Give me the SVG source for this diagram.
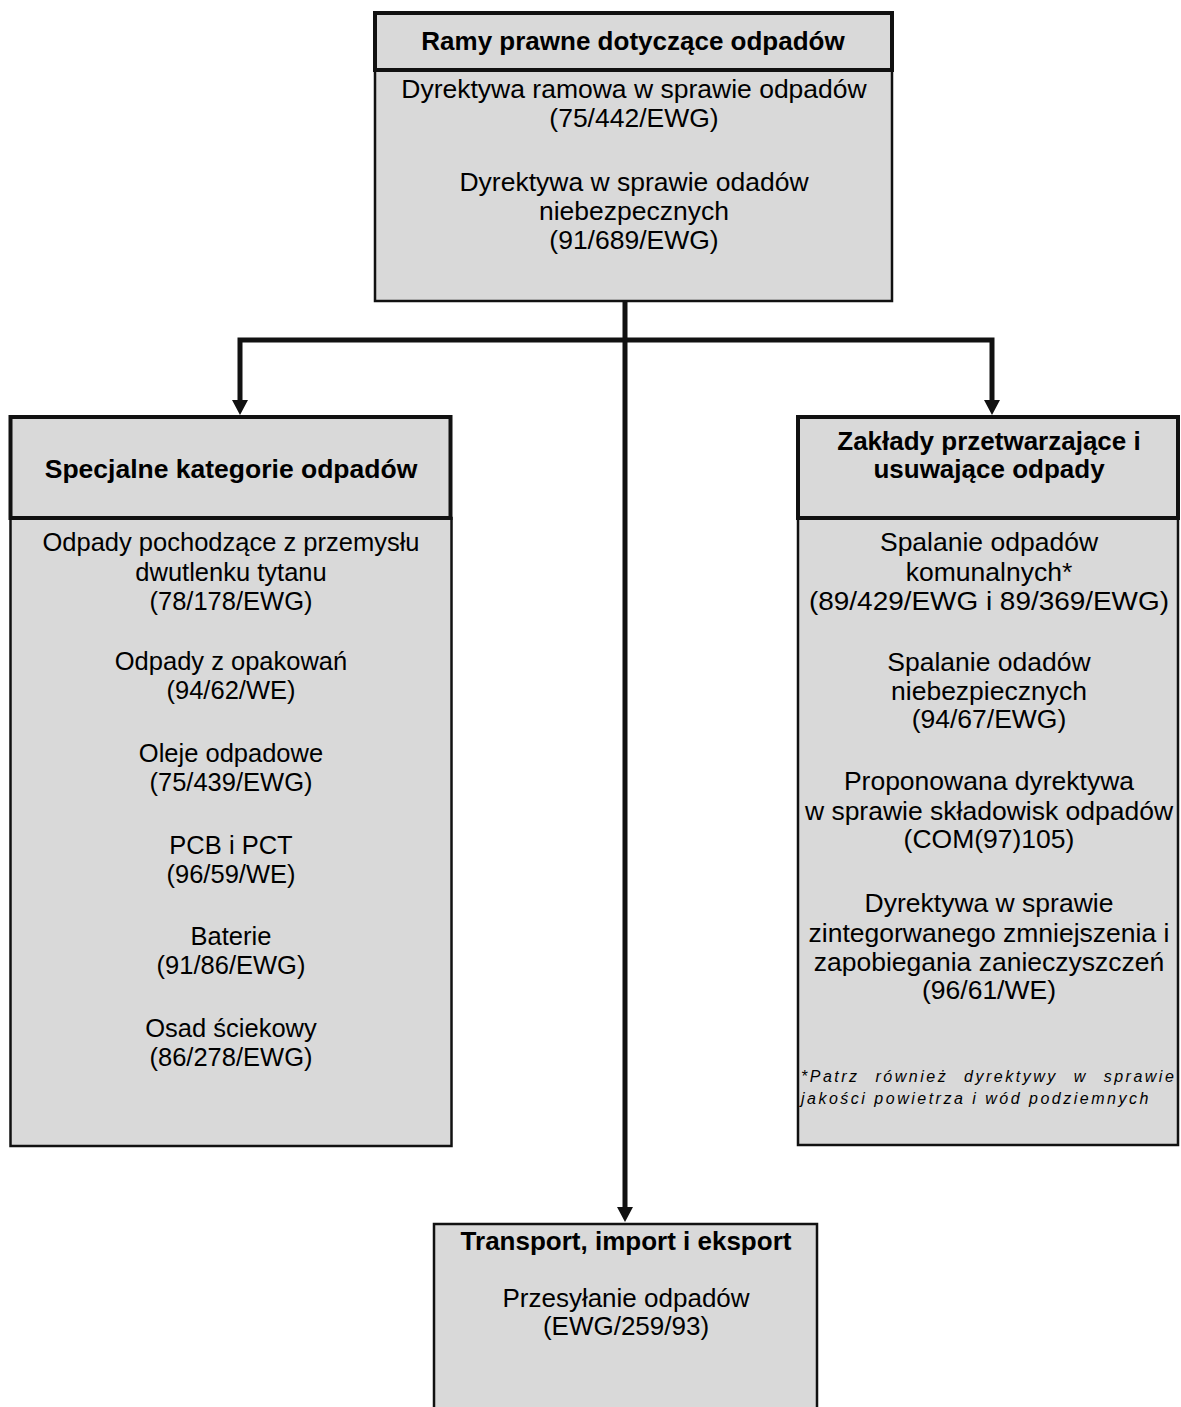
<svg xmlns="http://www.w3.org/2000/svg" width="1181" height="1407" viewBox="0 0 1181 1407">
<defs>
<style>
.hdr{fill:#d9d9d9;stroke:#111;stroke-width:4}
.body{fill:#d9d9d9;stroke:#111;stroke-width:2.5}
.t{font-family:"Liberation Sans",Arial,sans-serif;font-size:25.5px;fill:#000;text-anchor:middle}
.t2{font-size:26.5px}
.t3{font-size:26px}
.b{font-family:"Liberation Sans",Arial,sans-serif;font-size:26px;font-weight:bold;fill:#000;text-anchor:middle}
.fn{font-family:"Liberation Sans",Arial,sans-serif;font-size:16px;font-style:italic;fill:#000;letter-spacing:2.5px}
.c{fill:none;stroke:#111;stroke-width:5;stroke-linejoin:miter}
</style>
<marker id="ah" markerUnits="userSpaceOnUse" markerWidth="15" markerHeight="16" viewBox="0 0 15 16" refX="0" refY="8" orient="auto">
<path d="M0,0 L15,8 L0,16 z" fill="#111"/>
</marker>
</defs>
<rect width="1181" height="1407" fill="#fff"/>
<g id="connectors">
<path class="c" d="M625,301 V1207" marker-end="url(#ah)"/>
<path class="c" d="M627,340 H240 V400" marker-end="url(#ah)"/>
<path class="c" d="M623,340 H992 V400" marker-end="url(#ah)"/>
</g>
<g id="node-ramy">
<rect class="body" x="375" y="70" width="517" height="231"/>
<rect class="hdr" x="375" y="13" width="517" height="57"/>
<text class="b" x="633" y="50">Ramy prawne dotyczące odpadów</text>
<text class="t t2" x="634" y="98">Dyrektywa ramowa w sprawie odpadów</text>
<text class="t t2" x="634" y="127">(75/442/EWG)</text>
<text class="t t2" x="634" y="191">Dyrektywa w sprawie odadów</text>
<text class="t t2" x="634" y="220">niebezpecznych</text>
<text class="t t2" x="634" y="249">(91/689/EWG)</text>
</g>
<g id="node-specjalne">
<rect class="body" x="10.5" y="518" width="441" height="628"/>
<rect class="hdr" x="10.5" y="417" width="440" height="101"/>
<text class="b" x="231" y="478" style="font-size:26.5px">Specjalne kategorie odpadów</text>
<text class="t" x="231" y="551">Odpady pochodzące z przemysłu</text>
<text class="t" x="231" y="581">dwutlenku tytanu</text>
<text class="t" x="231" y="610">(78/178/EWG)</text>
<text class="t" x="231" y="670">Odpady z opakowań</text>
<text class="t" x="231" y="699">(94/62/WE)</text>
<text class="t" x="231" y="762">Oleje odpadowe</text>
<text class="t" x="231" y="791">(75/439/EWG)</text>
<text class="t" x="231" y="854">PCB i PCT</text>
<text class="t" x="231" y="883">(96/59/WE)</text>
<text class="t" x="231" y="945">Baterie</text>
<text class="t" x="231" y="974">(91/86/EWG)</text>
<text class="t" x="231" y="1037">Osad ściekowy</text>
<text class="t" x="231" y="1066">(86/278/EWG)</text>
</g>
<g id="node-zaklady">
<rect class="body" x="798" y="518" width="380" height="627"/>
<rect class="hdr" x="798" y="417" width="380" height="101"/>
<text class="b" x="989" y="450">Zakłady przetwarzające i</text>
<text class="b" x="989" y="478">usuwające odpady</text>
<text class="t t2" x="989" y="551">Spalanie odpadów</text>
<text class="t t2" x="989" y="581">komunalnych*</text>
<text class="t t2" x="989" y="610" textLength="360" lengthAdjust="spacingAndGlyphs">(89/429/EWG i 89/369/EWG)</text>
<text class="t t2" x="989" y="671">Spalanie odadów</text>
<text class="t t2" x="989" y="700">niebezpiecznych</text>
<text class="t t2" x="989" y="728">(94/67/EWG)</text>
<text class="t t2" x="989" y="790">Proponowana dyrektywa</text>
<text class="t t2" x="989" y="820">w sprawie składowisk odpadów</text>
<text class="t t2" x="989" y="848">(COM(97)105)</text>
<text class="t t2" x="989" y="912">Dyrektywa w sprawie</text>
<text class="t t2" x="989" y="942">zintegorwanego zmniejszenia i</text>
<text class="t t2" x="989" y="971">zapobiegania zanieczyszczeń</text>
<text class="t t2" x="989" y="999">(96/61/WE)</text>
<text class="fn" x="801" y="1082" style="word-spacing:9px">*Patrz również dyrektywy w sprawie</text>
<text class="fn" x="801" y="1104">jakości powietrza i wód podziemnych</text>
</g>
<g id="node-transport">
<rect class="body" x="434" y="1224" width="383" height="200"/>
<text class="b" x="626" y="1250">Transport, import i eksport</text>
<text class="t t3" x="626" y="1307">Przesyłanie odpadów</text>
<text class="t t3" x="626" y="1335">(EWG/259/93)</text>
</g>
</svg>
